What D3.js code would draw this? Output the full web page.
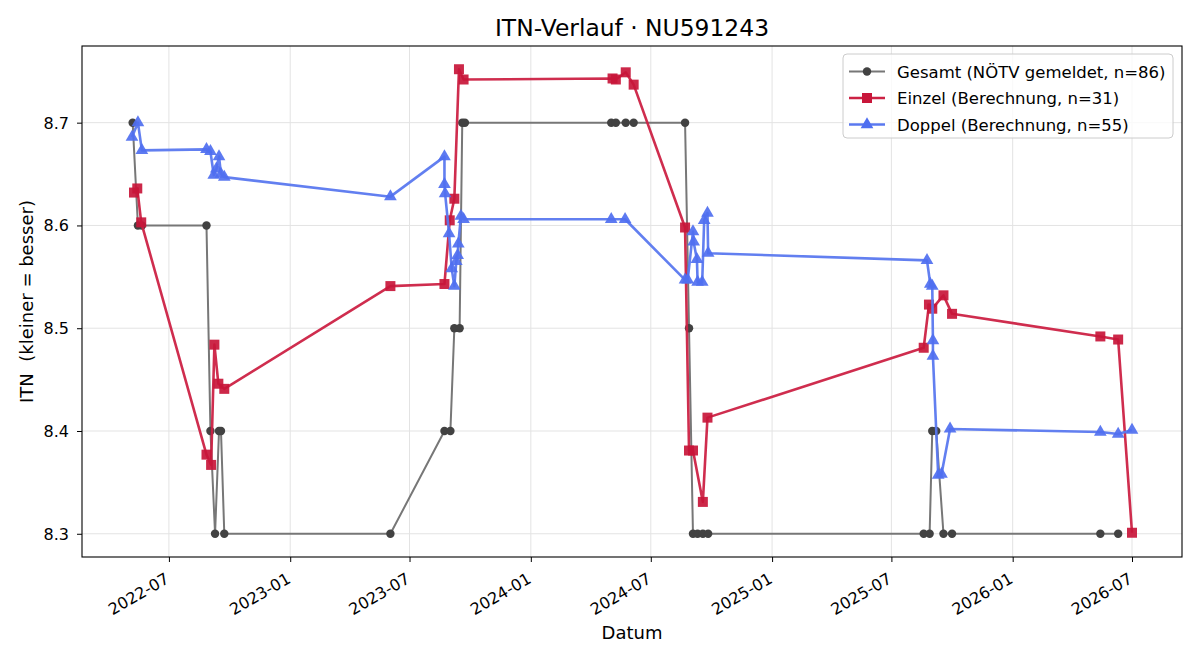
<!DOCTYPE html>
<html>
<head>
<meta charset="utf-8">
<script src="https://cdn.jsdelivr.net/npm/d3@7"></script>
<style>
  html, body { margin: 0; padding: 0; background: #fff; }
  svg { display: block; font-family: "DejaVu Sans", sans-serif; }
  svg text { font-family: "DejaVu Sans", sans-serif; white-space: pre; }
</style>
</head>
<body>
<svg id="chart" width="1200" height="660"></svg>
<script>
// ---------------- data ----------------
const chartTitle = "ITN-Verlauf · NU591243";
const xLabel = "Datum";
const yLabel = "ITN  (kleiner = besser)";
const seriesNames = [
  "Gesamt (NÖTV gemeldet, n=86)",
  "Einzel (Berechnung, n=31)",
  "Doppel (Berechnung, n=55)"
];
const yTicks = [8.3, 8.4, 8.5, 8.6, 8.7];

const gesamtDates = [
  "2022-05-07","2022-05-15","2022-05-21","2022-08-27","2022-09-02","2022-09-09",
  "2022-09-15","2022-09-18","2022-09-23","2023-06-02","2023-08-23","2023-09-01",
  "2023-09-07","2023-09-15","2023-09-19","2023-09-23","2024-05-02","2024-05-09",
  "2024-05-24","2024-06-05","2024-08-22","2024-08-28","2024-09-03","2024-09-10",
  "2024-09-18","2024-09-26","2025-08-19","2025-08-28","2025-09-01","2025-09-07",
  "2025-09-18","2025-10-01","2026-05-14","2026-06-10"
];
const gesamtValues = [
  8.7, 8.6, 8.6, 8.6, 8.4, 8.3,
  8.4, 8.4, 8.3, 8.3, 8.4, 8.4,
  8.5, 8.5, 8.7, 8.7, 8.7, 8.7,
  8.7, 8.7, 8.7, 8.5, 8.3, 8.3,
  8.3, 8.3, 8.3, 8.3, 8.4, 8.4,
  8.3, 8.3, 8.3, 8.3
];

const einzelDates = [
  "2022-05-09","2022-05-14","2022-05-20","2022-08-27","2022-09-03","2022-09-08",
  "2022-09-14","2022-09-23","2023-06-02","2023-08-23","2023-08-31","2023-09-07",
  "2023-09-14","2023-09-21","2024-05-04","2024-05-09","2024-05-24","2024-06-05",
  "2024-08-22","2024-08-28","2024-09-03","2024-09-18","2024-09-25","2025-08-19",
  "2025-08-27","2025-09-01","2025-09-18","2025-10-01","2026-05-14","2026-06-10",
  "2026-07-01"
];
const einzelValues = [
  8.632, 8.636, 8.603, 8.377, 8.367, 8.484,
  8.446, 8.441, 8.541, 8.543, 8.605, 8.626,
  8.752, 8.742, 8.743, 8.742, 8.749, 8.737,
  8.598, 8.381, 8.381, 8.331, 8.413, 8.481,
  8.523, 8.519, 8.532, 8.514, 8.492, 8.489,
  8.301
];

const doppelDates = [
  "2022-05-06","2022-05-15","2022-05-21","2022-08-27","2022-09-02","2022-09-07",
  "2022-09-11","2022-09-15","2022-09-18","2022-09-23","2023-06-02","2023-08-23",
  "2023-08-23","2023-08-24","2023-08-30","2023-09-03","2023-09-07","2023-09-10",
  "2023-09-12","2023-09-13","2023-09-17","2023-09-21","2024-05-02","2024-05-23",
  "2024-08-22","2024-08-26","2024-09-03","2024-09-04","2024-09-09","2024-09-10",
  "2024-09-17","2024-09-20","2024-09-25","2024-09-26","2025-08-24","2025-08-29",
  "2025-09-01","2025-09-02","2025-09-02","2025-09-10","2025-09-15","2025-09-28",
  "2026-05-14","2026-06-10","2026-07-01"
];
const doppelValues = [
  8.686, 8.700, 8.673, 8.674, 8.672, 8.649,
  8.655, 8.667, 8.650, 8.647, 8.628, 8.667,
  8.640, 8.631, 8.592, 8.558, 8.541, 8.565,
  8.571, 8.582, 8.609, 8.606, 8.606, 8.606,
  8.547, 8.547, 8.594, 8.584, 8.567, 8.545,
  8.545, 8.605, 8.612, 8.573, 8.566, 8.543,
  8.541, 8.488, 8.473, 8.357, 8.358, 8.402,
  8.399, 8.397, 8.401
];

// ---------------- build ----------------
const parse = d3.utcParse("%Y-%m-%d");
const zip = (ds, vs) => ds.map((d, i) => ({ date: parse(d), value: vs[i] }));
const series = [
  { name: seriesNames[0], data: zip(gesamtDates, gesamtValues), line: "#777777", marker: "#424242", width: 2, shape: "circle" },
  { name: seriesNames[1], data: zip(einzelDates, einzelValues), line: "#cc2244", marker: "#c8163a", width: 2.6, shape: "square" },
  { name: seriesNames[2], data: zip(doppelDates, doppelValues), line: "#5a78ef", marker: "#4f6ff0", width: 2.6, shape: "triangle" }
];

const W = 1200, H = 660;
const m = { left: 82, right: 18, top: 46, bottom: 103 };
const iw = W - m.left - m.right, ih = H - m.top - m.bottom;

const all = series.flatMap(s => s.data);
const [xMin, xMax] = d3.extent(all, d => d.date);
const xPad = (xMax - xMin) * 0.05;
const [yMin, yMax] = d3.extent(all, d => d.value);
const yPad = (yMax - yMin) * 0.05;

const x = d3.scaleUtc()
  .domain([new Date(+xMin - xPad), new Date(+xMax + xPad)])
  .range([0, iw]);
const y = d3.scaleLinear()
  .domain([yMin - yPad, yMax + yPad])
  .range([ih, 0]);

const svg = d3.select("#chart");
svg.append("rect").attr("width", W).attr("height", H).attr("fill", "#fff");
const g = svg.append("g").attr("transform", `translate(${m.left},${m.top})`);

const xTicks = x.ticks(d3.utcMonth.every(6));

// grid
g.append("g").selectAll("line").data(xTicks).join("line")
  .attr("x1", d => x(d)).attr("x2", d => x(d))
  .attr("y1", 0).attr("y2", ih)
  .attr("stroke", "#e3e3e3").attr("stroke-width", 1);
g.append("g").selectAll("line").data(yTicks).join("line")
  .attr("x1", 0).attr("x2", iw)
  .attr("y1", d => y(d)).attr("y2", d => y(d))
  .attr("stroke", "#e3e3e3").attr("stroke-width", 1);

// axes
const xAxis = g.append("g").attr("transform", `translate(0,${ih})`)
  .call(d3.axisBottom(x).tickValues(xTicks).tickFormat(d3.utcFormat("%Y-%m")).tickSize(5).tickSizeOuter(0));
xAxis.attr("font-size", null).attr("font-family", null);
xAxis.select(".domain").remove();
xAxis.selectAll("line").attr("stroke", "#000").attr("stroke-width", 1);
xAxis.selectAll("text")
  .style("font-size", "16px").attr("fill", "#000")
  .attr("text-anchor", "end")
  .attr("y", 0).attr("dy", 0)
  .attr("transform", "translate(1,25) rotate(-30)");

const yAxis = g.append("g")
  .call(d3.axisLeft(y).tickValues(yTicks).tickFormat(d3.format(".1f")).tickSize(5).tickSizeOuter(0));
yAxis.attr("font-size", null).attr("font-family", null);
yAxis.select(".domain").remove();
yAxis.selectAll("line").attr("stroke", "#000").attr("stroke-width", 1);
yAxis.selectAll("text").style("font-size", "16px").attr("fill", "#000").attr("x", -13).attr("dy", "0.34em");

// frame
g.append("rect").attr("width", iw).attr("height", ih)
  .attr("fill", "none").attr("stroke", "#000").attr("stroke-width", 1.1);

// series
const line = d3.line().x(d => x(d.date)).y(d => y(d.value));
const symbolFor = s => s === "circle" ? d3.symbolCircle : s === "square" ? d3.symbolSquare : d3.symbolTriangle;
const sizeFor = s => s === "circle" ? 56 : s === "square" ? 100 : 70;

const plot = g.append("g");
series.forEach(s => {
  const sg = plot.append("g");
  sg.append("path").datum(s.data)
    .attr("d", line).attr("fill", "none")
    .attr("stroke", s.line).attr("stroke-width", s.width)
    .attr("stroke-linejoin", "round").attr("opacity", s.shape === "circle" ? 1 : 0.95);
  sg.selectAll("path.pt").data(s.data).join("path").attr("class", "pt")
    .attr("transform", d => `translate(${x(d.date)},${y(d.value)})`)
    .attr("d", d3.symbol().type(symbolFor(s.shape)).size(sizeFor(s.shape)))
    .attr("fill", s.marker).attr("opacity", s.shape === "circle" ? 1 : 0.92);
});

// title & labels
svg.append("text").attr("x", m.left + iw / 2).attr("y", 36)
  .attr("text-anchor", "middle").style("font-size", "23.4px").attr("fill", "#000").text(chartTitle);
svg.append("text").attr("x", m.left + iw / 2).attr("y", 639)
  .attr("text-anchor", "middle").style("font-size", "18px").attr("fill", "#000").text(xLabel);
svg.append("text").attr("transform", `translate(33,${m.top + ih / 2}) rotate(-90)`)
  .attr("text-anchor", "middle").style("font-size", "18px").attr("fill", "#000").text(yLabel);

// legend
const lg = svg.append("g").attr("transform", "translate(843,54)");
lg.append("rect").attr("width", 330).attr("height", 84).attr("rx", 4)
  .attr("fill", "#fff").attr("fill-opacity", 0.8)
  .attr("stroke", "#cccccc").attr("stroke-width", 1);
series.forEach((s, i) => {
  const row = lg.append("g").attr("transform", `translate(0,${17.5 + i * 26.5})`);
  row.append("line").attr("x1", 6).attr("x2", 42).attr("y1", 0).attr("y2", 0)
    .attr("stroke", s.line).attr("stroke-width", s.width);
  row.append("path").attr("transform", "translate(24,0)")
    .attr("d", d3.symbol().type(symbolFor(s.shape)).size(sizeFor(s.shape)))
    .attr("fill", s.marker);
  row.append("text").attr("x", 54).attr("y", 6).style("font-size", "16.5px")
    .attr("fill", "#000").text(s.name);
});
</script>
</body>
</html>
